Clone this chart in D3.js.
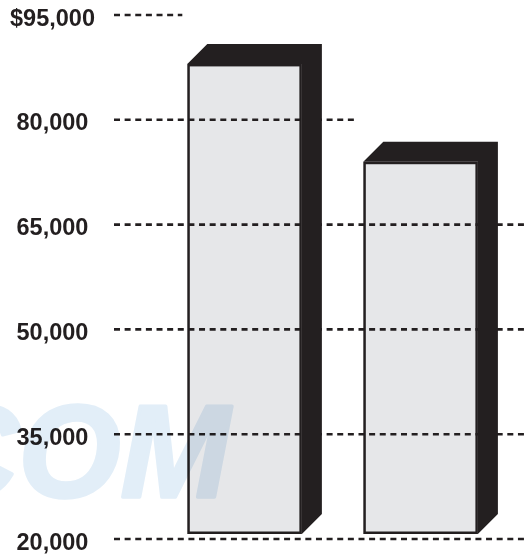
<!DOCTYPE html>
<html>
<head>
<meta charset="utf-8">
<script src="https://cdn.jsdelivr.net/npm/d3@7"></script>
<style>
  html, body { margin: 0; padding: 0; background: #ffffff; }
  svg { display: block; }
</style>
</head>
<body>
<script>
// Two salary bars on a dashed value grid
const categories = ["First", "Second"];
const values = [88000, 74000];
const tickValues = [20000, 35000, 50000, 65000, 80000, 95000];
const tickLabels = ["20,000", "35,000", "50,000", "65,000", "80,000", "$95,000"];
const watermarkText = "COM";

const W = 528, H = 556;
const ink = "#231f20";
const faceFill = "#e6e7e9";
const depth = 20;        // extrusion of the 3D boxes (up and to the right)
const baseGap = 5;       // bars sit just above the lowest grid line

const svg = d3.select("body").append("svg")
  .attr("width", W).attr("height", H);

svg.append("rect").attr("width", W).attr("height", H).attr("fill", "#fff");

const y = d3.scaleLinear().domain([20000, 95000]).range([539, 15]);
const x = d3.scaleBand().domain(categories).range([187.3, 477.9])
  .paddingInner(0.349).paddingOuter(0);

const bw = x.bandwidth();
const bars = categories.map((c, i) => ({
  c, v: values[i],
  x0: x(c), x1: x(c) + bw,
  top: y(values[i]), bottom: y(20000) - baseGap
}));

// front faces
const g = svg.append("g");
g.selectAll("rect.front").data(bars).enter().append("rect")
  .attr("class", "front")
  .attr("x", d => d.x0 + 1.25)
  .attr("y", d => d.top + 1.25)
  .attr("width", bw - 2.5)
  .attr("height", d => d.bottom - d.top - 2.5)
  .attr("fill", faceFill)
  .attr("stroke", ink)
  .attr("stroke-width", 2.5);

// dashed grid lines; each runs until the first box that does not reach it
const grid = svg.append("g");
tickValues.forEach((t, i) => {
  const yy = y(t);
  const blocker = bars.find(b => yy < b.top - depth);
  const xEnd = blocker ? blocker.x0 - 5 : W;
  grid.append("line")
    .attr("x1", 114).attr("x2", xEnd)
    .attr("y1", yy).attr("y2", yy)
    .attr("stroke", ink)
    .attr("stroke-width", 2.6)
    .attr("stroke-dasharray", "6,4.63");
});

// top and side faces of each box
svg.append("g").selectAll("path.side").data(bars).enter().append("path")
  .attr("class", "side")
  .attr("fill", ink)
  .attr("d", d => {
    const p = d3.path();
    p.moveTo(d.x0, d.top);
    p.lineTo(d.x0 + depth, d.top - depth);
    p.lineTo(d.x1 + depth, d.top - depth);
    p.lineTo(d.x1 + depth, d.bottom - depth);
    p.lineTo(d.x1, d.bottom);
    p.lineTo(d.x1, d.top);
    p.closePath();
    return p.toString();
  });

// value labels
svg.append("g").selectAll("text.tick").data(tickValues).enter().append("text")
  .attr("class", "tick")
  .attr("x", 52.5)
  .attr("y", d => y(d) + 10.5)
  .attr("text-anchor", "middle")
  .attr("font-family", "'Liberation Sans', Arial, Helvetica, sans-serif")
  .attr("font-weight", "bold")
  .attr("font-size", 23.5)
  .attr("fill", ink)
  .text((d, i) => tickLabels[i]);

// faint watermark lettering, tinted over whatever lies beneath
svg.append("text")
  .attr("x", -76)
  .attr("y", 497)
  .attr("font-family", "'Liberation Sans', Arial, Helvetica, sans-serif")
  .attr("font-weight", "bold")
  .attr("font-style", "italic")
  .attr("font-size", 131)
  .attr("fill", "#e2eef8")
  .attr("stroke", "#e2eef8")
  .attr("stroke-width", 3.5)
  .attr("stroke-linejoin", "round")
  .style("mix-blend-mode", "multiply")
  .text(watermarkText);
</script>
</body>
</html>
